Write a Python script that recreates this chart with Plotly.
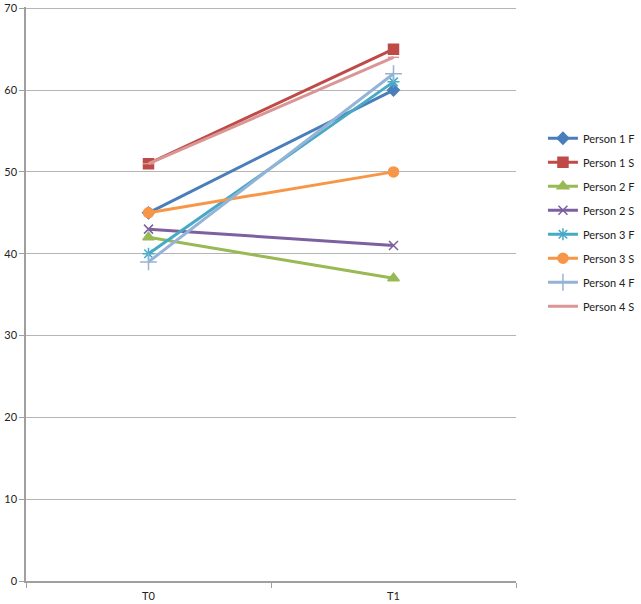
import plotly.graph_objects as go

times = ["T0", "T1"]
names = ["Person 1 F", "Person 1 S", "Person 2 F", "Person 2 S",
         "Person 3 F", "Person 3 S", "Person 4 F", "Person 4 S"]
p1f = [45, 60]
p1s = [51, 65]
p2f = [42, 37]
p2s = [43, 41]
p3f = [40, 61]
p3s = [45, 50]
p4f = [39, 62]
p4s = [51, 64]

series = [p1f, p1s, p2f, p2s, p3f, p3s, p4f, p4s]
colors = ["#4A7EBB", "#BE4B48", "#98B954", "#7D60A0",
          "#46AAC5", "#F79646", "#95B3D7", "#D99694"]
symbols = ["diamond", "square", "triangle-up", "x-thin-open",
           "asterisk-open", "circle", "cross-thin-open", "line-ew-open"]
sizes = [9, 10, 10, 9, 10, 10, 12, 8]

fig = go.Figure()
for name, vals, c, s, sz in zip(names, series, colors, symbols, sizes):
    fig.add_trace(go.Scatter(
        x=times, y=vals, name=name, mode="lines+markers", legendgroup=name,
        line=dict(color=c, width=3),
        marker=dict(symbol=s, size=sz, color=c, line=dict(color=c, width=1.5)),
    ))

fig.update_layout(
    width=641, height=604,
    margin=dict(l=26, r=125, t=7, b=23, autoexpand=False),
    paper_bgcolor="white", plot_bgcolor="white",
    font=dict(family="Lato", size=11, color="#222"),
    showlegend=True,
    legend=dict(x=1.055, y=0.625, xanchor="left", yanchor="middle",
                tracegroupgap=5, itemwidth=30, font=dict(size=11)),
    xaxis=dict(type="category", showgrid=False, showline=True, linecolor="#A0A0A0",
               linewidth=1.5, ticks="outside", tickson="boundaries", ticklen=5,
               tickcolor="#A0A0A0", range=[-0.5, 1.5], automargin=False,
               ticklabelstandoff=4),
    yaxis=dict(range=[0, 70.15], dtick=10, showgrid=True, gridcolor="#B5B5B5",
               showline=True, linecolor="#A0A0A0", linewidth=1.5, ticks="outside",
               ticklen=5, tickcolor="#A0A0A0", zeroline=False, automargin=False,
               ticklabeloverflow="allow"),
)

# the page body has a default 8px margin; drop it so the figure sits at 0,0
fig.write_html("out.html", config={"displayModeBar": False},
               post_script="document.body.style.margin='0';")
